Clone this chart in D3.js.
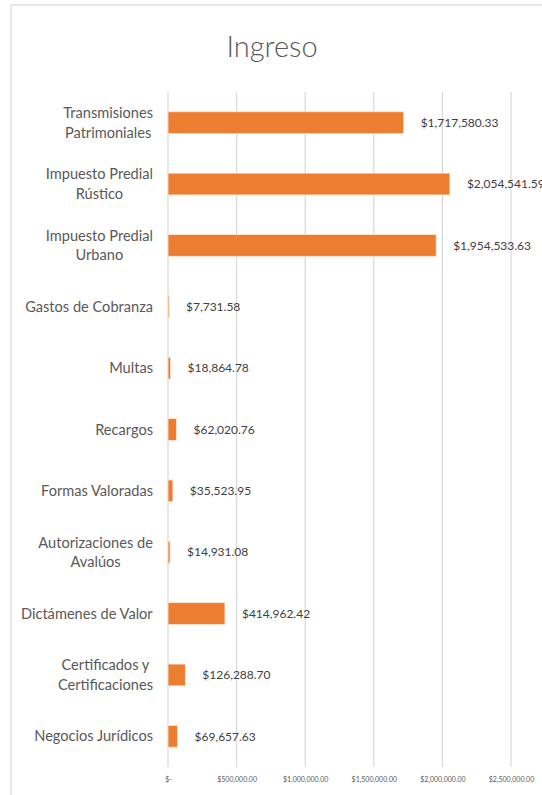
<!DOCTYPE html>
<html>
<head>
<meta charset="utf-8">
<script src="https://cdn.jsdelivr.net/npm/d3@7/dist/d3.min.js"></script>
<style>
  body { margin: 0; background: #fff; }
  text { font-family: Lato, "Open Sans", sans-serif; }
</style>
</head>
<body>
<div id="chart"></div>
<script>
var categories = [
  'Transmisiones\nPatrimoniales',
  'Impuesto Predial\nRústico',
  'Impuesto Predial\nUrbano',
  'Gastos de Cobranza',
  'Multas',
  'Recargos',
  'Formas Valoradas',
  'Autorizaciones de\nAvalúos',
  'Dictámenes de Valor',
  'Certificados y\nCertificaciones',
  'Negocios Jurídicos'
];
var values = [1717580.33, 2054541.59, 1954533.63, 7731.58, 18864.78, 62020.76,
  35523.95, 14931.08, 414962.42, 126288.70, 69657.63];
var ticks = [0, 500000, 1000000, 1500000, 2000000, 2500000];
var title = 'Ingreso';

var svgWidth = 542, svgHeight = 795;
var margin = { top: 92, right: 31, bottom: 28, left: 168 };
var width = 343;
var height = svgHeight - margin.top - margin.bottom;

var svg = d3.select('#chart').append('svg')
  .attr('width', svgWidth)
  .attr('height', svgHeight);

// chart area border (right side runs off the picture)
svg.append('rect')
  .attr('x', 11).attr('y', 5)
  .attr('width', 560).attr('height', 820)
  .attr('fill', 'none')
  .attr('stroke', '#d9d9d9')
  .attr('stroke-width', 1.2);

svg.append('text')
  .attr('x', 272).attr('y', 57)
  .attr('text-anchor', 'middle')
  .attr('font-size', 29)
  .attr('font-weight', 300)
  .attr('fill', '#595959')
  .text(title);

var g = svg.append('g')
  .attr('transform', 'translate(' + margin.left + ',' + margin.top + ')');

var x = d3.scaleLinear().domain([0, 2500000]).range([0, width]);
var y = d3.scaleBand().domain(categories).range([0, height]).paddingInner(0.645).paddingOuter(0.3225);

// vertical gridlines
g.selectAll('.grid')
  .data(ticks)
  .enter()
  .append('line')
  .attr('x1', function (d) { return x(d) })
  .attr('x2', function (d) { return x(d) })
  .attr('y1', 0)
  .attr('y2', height)
  .attr('stroke', '#d9d9d9')
  .attr('stroke-width', 1.2);

var xAxis = g.append('g')
  .attr('transform', 'translate(0,' + height + ')')
  .call(d3.axisBottom(x).tickValues(ticks).tickSize(0).tickPadding(10)
    .tickFormat(function (d) { return d === 0 ? '$-' : '$' + d3.format(',.2f')(d) }));
xAxis.select('.domain').remove();
xAxis.selectAll('text')
  .attr('font-size', 7)
  .attr('fill', '#595959')
  .style('font-family', 'Lato, "Open Sans", sans-serif');

// bars
g.selectAll('.bar')
  .data(values)
  .enter()
  .append('rect')
  .attr('class', 'bar')
  .attr('x', x(0))
  .attr('y', function (d, i) { return y(categories[i]) })
  .attr('width', function (d) { return x(d) - x(0) })
  .attr('height', y.bandwidth())
  .attr('fill', '#ed7d31')
  .attr('stroke', '#fbe5d6')
  .attr('stroke-width', 0.8);

// value labels
g.selectAll('.val')
  .data(values)
  .enter()
  .append('text')
  .attr('x', function (d) { return x(d) + 17 })
  .attr('y', function (d, i) { return y(categories[i]) + y.bandwidth() / 2 })
  .attr('dy', '0.35em')
  .attr('font-size', 12)
  .attr('fill', '#404040')
  .text(function (d) { return '$' + d3.format(',.2f')(d) });

// category labels, multi-line centered block, right aligned to axis
categories.forEach(function (c, i) {
  var lines = c.split('\n');
  var cy = y(c) + y.bandwidth() / 2;
  var t = g.append('text')
    .attr('font-size', 14.6)
    .attr('fill', '#595959')
    .attr('text-anchor', 'middle');
  lines.forEach(function (l, j) {
    t.append('tspan').attr('x', 0).attr('y', cy + (j - (lines.length - 1) / 2) * 19.5)
      .attr('dy', '0.35em').text(l);
  });
  var w = t.node().getBBox().width;
  t.selectAll('tspan').attr('x', -15 - w / 2);
});
</script>
</body>
</html>
